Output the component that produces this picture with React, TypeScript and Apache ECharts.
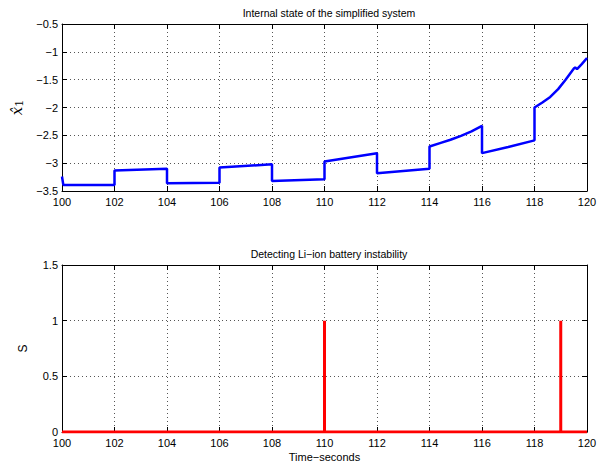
import React, { useEffect, useRef } from "react";
import * as echarts from "echarts";

const topTitle = "Internal state of the simplified system";
const bottomTitle = "Detecting Li\u2212ion battery instability";
const xLabel = "Time\u2212seconds";

const stateTimes = [
  100, 100.05, 102, 102, 104, 104, 106, 106, 108, 108, 110, 110, 112, 112, 114, 114,
  114.4, 114.8, 115.2, 115.6, 116, 116, 117, 118, 118, 118.3, 118.6, 118.9, 119.17, 119.5, 119.55, 119.62, 119.8, 120,
];
const stateValues = [
  -3.24, -3.39, -3.39, -3.13, -3.1, -3.36, -3.35, -3.08, -3.02, -3.32, -3.29, -2.97, -2.82, -3.18, -3.1, -2.7,
  -2.64, -2.58, -2.51, -2.43, -2.33, -2.82, -2.71, -2.59, -2.0, -1.91, -1.81, -1.67, -1.51, -1.3, -1.28, -1.31, -1.22, -1.11,
];

const detTimes = [100, 110, 110, 110, 110, 119, 119, 119, 119, 120];
const detValues = [0, 0, 1, 1, 0, 0, 1, 1, 0, 0];

const xMin = 100;
const xMax = 120;
const xStep = 2;

const FONT = "'Liberation Sans', Arial, Helvetica, sans-serif";
const fmt = (v: number) => String(v).replace("-", "\u2212");

function mainX(gridIndex: number, showName: boolean) {
  return {
    type: "value",
    gridIndex,
    min: xMin,
    max: xMax,
    interval: xStep,
    position: "bottom",
    axisLine: { show: true, onZero: false, lineStyle: { color: "#000", width: 1 } },
    axisTick: { show: true, inside: true, length: 5, lineStyle: { color: "#000" } },
    axisLabel: { color: "#000", fontSize: 11, fontFamily: FONT, margin: 5 },
    splitLine: { show: true, lineStyle: { color: "#555", type: [1, 3], width: 1 } },
    name: showName ? xLabel : "",
    nameLocation: "middle",
    nameGap: 19,
    nameTextStyle: { color: "#000", fontSize: 11, fontFamily: FONT },
  };
}
function topX(gridIndex: number) {
  return {
    type: "value",
    gridIndex,
    min: xMin,
    max: xMax,
    interval: xStep,
    position: "top",
    axisLine: { show: true, onZero: false, lineStyle: { color: "#000", width: 1 } },
    axisTick: { show: true, inside: true, length: 5, lineStyle: { color: "#000" } },
    axisLabel: { show: false },
    splitLine: { show: false },
  };
}
function mainY(gridIndex: number, min: number, max: number, name: any, gap: number, rich?: any) {
  return {
    type: "value",
    gridIndex,
    min,
    max,
    interval: 0.5,
    position: "left",
    axisLine: { show: true, onZero: false, lineStyle: { color: "#000", width: 1 } },
    axisTick: { show: true, inside: true, length: 5, lineStyle: { color: "#000" } },
    axisLabel: { color: "#000", fontSize: 11, fontFamily: FONT, margin: 4, formatter: fmt },
    splitLine: { show: true, lineStyle: { color: "#555", type: [1, 3], width: 1 } },
    name,
    nameLocation: "middle",
    nameRotate: 90,
    nameGap: gap,
    nameTextStyle: { color: "#000", fontSize: 12, fontFamily: FONT, rich },
  };
}
function rightY(gridIndex: number, min: number, max: number) {
  return {
    type: "value",
    gridIndex,
    min,
    max,
    interval: 0.5,
    position: "right",
    axisLine: { show: true, onZero: false, lineStyle: { color: "#000", width: 1 } },
    axisTick: { show: true, inside: true, length: 5, lineStyle: { color: "#000" } },
    axisLabel: { show: false },
    splitLine: { show: false },
  };
}

export default function App() {
  const ref = useRef<HTMLDivElement>(null);
  useEffect(() => {
    if (!ref.current) return;
    const chart = echarts.init(ref.current, null, { renderer: "svg" });
    const stateData = stateTimes.map((t, i) => [t, stateValues[i]]);
    const detData = detTimes.map((t, i) => [t, detValues[i]]);
    chart.setOption({
      animation: false,
      backgroundColor: "#fff",
      title: [
        {
          text: topTitle,
          left: 324,
          top: 2,
          textAlign: "center",
          textStyle: { fontSize: 10.5, fontWeight: "normal", color: "#000", fontFamily: FONT },
        },
        {
          text: bottomTitle,
          left: 324,
          top: 243,
          textAlign: "center",
          textStyle: { fontSize: 10.5, fontWeight: "normal", color: "#000", fontFamily: FONT },
        },
      ],
      grid: [
        { left: 62, right: 18, top: 24, height: 167 },
        { left: 62, right: 18, top: 265, height: 167 },
      ],
      xAxis: [mainX(0, false), mainX(1, true), topX(0), topX(1)],
      yAxis: [
        mainY(0, -3.5, -0.5, "{x|x\u0302}{s|1}", 31, {
          x: { fontFamily: "'DejaVu Serif', serif", fontStyle: "italic", fontSize: 15, color: "#000" },
          s: { fontFamily: "'DejaVu Serif', serif", fontSize: 11, color: "#000", padding: [6, 0, 0, 0] },
        }),
        mainY(1, 0, 1.5, "S", 33),
        rightY(0, -3.5, -0.5),
        rightY(1, 0, 1.5),
      ],
      series: [
        {
          type: "line",
          xAxisIndex: 0,
          yAxisIndex: 0,
          data: stateData,
          showSymbol: false,
          lineStyle: { color: "#0000ff", width: 2.5 },
          itemStyle: { color: "#0000ff" },
        },
        {
          type: "line",
          xAxisIndex: 1,
          yAxisIndex: 1,
          data: detData,
          showSymbol: false,
          lineStyle: { color: "#ff0000", width: 3 },
          itemStyle: { color: "#ff0000" },
        },
      ],
    });
    return () => chart.dispose();
  }, []);
  return (
    <div
      ref={ref}
      style={{ position: "fixed", left: 0, top: 0, width: 605, height: 466, background: "#fff" }}
    />
  );
}
